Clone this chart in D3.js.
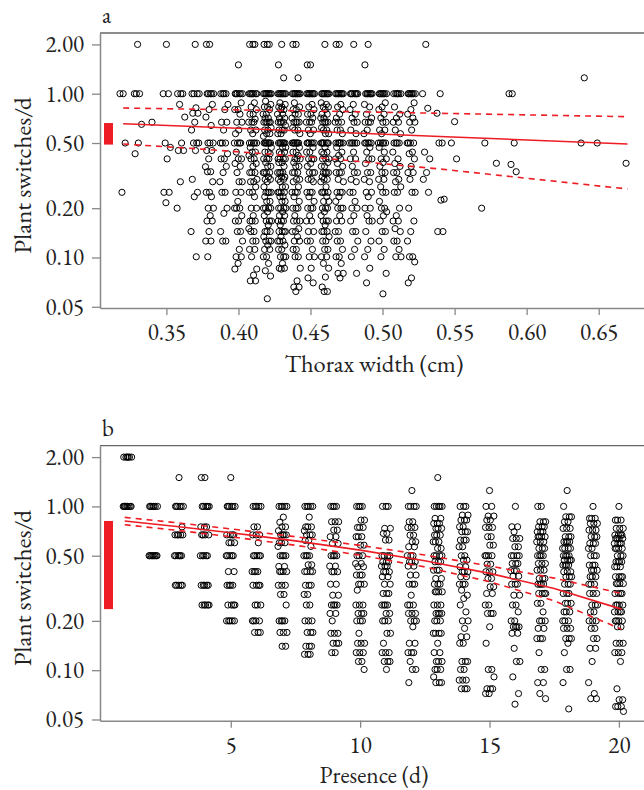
<!DOCTYPE html>
<html><head><meta charset="utf-8">
<script src="https://cdn.jsdelivr.net/npm/d3@7"></script>
<style>
body{margin:0;background:#fff}
svg{display:block}
</style>
</head><body>
<svg id="c" width="644" height="790"></svg>
<script>
// ---------- Panel a data: thorax width columns (cm) and plant switches/d ----------
const thoraxWidth = [0.32,0.33,0.34,0.35,0.36,0.37,0.38,0.39,0.40,0.41,0.42,0.43,0.44,0.45,0.46,0.47,0.48,0.49,0.50,0.51,0.52,0.53,0.54,0.55,0.571,0.579,0.59,0.64,0.649,0.669];
const switchesA = [
 "1*2 0.5 0.25",
 "2 1*3 0.65 0.5 0.43",
 "0.67",
 "2 1*2 0.5 0.47 0.4 0.25*2 0.216",
 "1*3 0.86 0.72 0.5 0.45*2 0.29 0.2",
 "2 1*4 0.82 0.76*2 0.67 0.6 0.5*3 0.45 0.3 0.25 0.235 0.144 0.101",
 "2*2 1*5 0.86 0.8 0.72 0.64 0.5*3 0.45*2 0.4 0.358 0.334*2 0.29 0.25*2 0.235 0.2*2 0.18 0.167*2 0.144 0.126*2 0.101",
 "1*4 0.86 0.8 0.67*2 0.6 0.5*3 0.43 0.4*2 0.36 0.33 0.29 0.25*2 0.2 0.186 0.144 0.126*2",
 "1.5 1*6 0.88 0.8*2 0.75 0.67*2 0.6 0.57 0.5*4 0.44 0.4*2 0.375 0.36 0.33 0.29*2 0.25*2 0.22 0.2*3 0.18 0.167*2 0.144*2 0.126 0.112 0.101*2 0.092 0.085",
 "2*3 1*7 0.88 0.83 0.8 0.75*2 0.7 0.67*3 0.6*2 0.57 0.5*5 0.47 0.44*2 0.42 0.4*2 0.375 0.36 0.33*3 0.3 0.29*2 0.27 0.25*2 0.235 0.2*2 0.18 0.167*3 0.15 0.144*2 0.126*2 0.112*2 0.101 0.085 0.078 0.072*2",
 "2*3 1*8 0.9 0.86 0.83*2 0.8 0.75*2 0.71*2 0.67*5 0.62 0.6*2 0.57*2 0.55 0.5*7 0.47 0.44*2 0.43 0.4*3 0.38 0.36*2 0.33*4 0.31 0.3*2 0.29 0.27 0.25*4 0.235 0.22*2 0.2*4 0.19 0.18 0.167*3 0.158 0.144*3 0.134 0.126*3 0.119 0.112*2 0.101*2 0.092 0.083 0.077 0.056",
 "2 1.5 1.25 1*8 0.88 0.86 0.83*2 0.8*2 0.75*2 0.71*2 0.67*4 0.64 0.6*3 0.57*2 0.5*7 0.47*2 0.44*2 0.43 0.4*4 0.38*2 0.36 0.33*4 0.31*2 0.3*2 0.29 0.27*2 0.25*4 0.235*2 0.22*2 0.2*4 0.19 0.18*2 0.167*3 0.158 0.144*4 0.134 0.126*3 0.119 0.112*2 0.101*3 0.092 0.086*2 0.085",
 "2*2 1.25 1*8 0.88 0.83 0.8*2 0.75*2 0.71 0.67*4 0.62 0.6*2 0.57 0.5*7 0.47 0.44*2 0.42 0.4*3 0.38 0.36*2 0.33*3 0.3*2 0.29 0.27 0.25*3 0.235 0.22 0.2*3 0.18 0.167*3 0.15 0.144*2 0.134 0.126*2 0.112*2 0.101*2 0.086 0.072 0.066*2 0.062",
 "1.5*2 1*8 0.86 0.83 0.8 0.75*2 0.71 0.67*3 0.6*2 0.57 0.5*6 0.47 0.44*2 0.4*3 0.375 0.36 0.33*3 0.3*2 0.29 0.25*3 0.235 0.22 0.2*3 0.18 0.167*2 0.144*2 0.126*2 0.112 0.101*2 0.086 0.075 0.07",
 "2 1*8 0.88 0.86 0.83*2 0.8 0.75*2 0.71*2 0.67*4 0.62 0.6*2 0.57*2 0.5*7 0.47 0.44*2 0.43 0.4*3 0.38 0.36*2 0.33*4 0.31 0.3*2 0.29 0.27 0.25*4 0.235 0.22*2 0.2*3 0.19 0.18 0.167*3 0.158 0.144*3 0.134 0.126*2 0.112*2 0.101*2 0.092 0.086 0.076 0.066 0.062*2",
 "2*2 1*8 0.86 0.83 0.8 0.75 0.71 0.67*3 0.6*2 0.57 0.5*6 0.47 0.44 0.42 0.4*2 0.375 0.36 0.33*3 0.3 0.29 0.25*3 0.235 0.22 0.2*3 0.18 0.167*2 0.144*2 0.126*2 0.112 0.101*2 0.092 0.08*2 0.075",
 "2 1*7 0.86 0.8 0.75 0.71 0.67*2 0.6 0.57 0.5*5 0.44 0.4*2 0.36 0.33*2 0.3 0.29 0.25*2 0.22 0.2*2 0.18 0.167 0.144*2 0.126 0.112 0.101 0.08",
 "2 1.5 1*7 0.86 0.83 0.75 0.71 0.67*3 0.6 0.57 0.5*5 0.47 0.44 0.4*2 0.375 0.33*2 0.3 0.29 0.25*2 0.235 0.2*2 0.18 0.167*2 0.144 0.126 0.112 0.101 0.086 0.07",
 "1*7 0.88 0.83 0.8 0.75 0.71 0.67*2 0.6*2 0.57 0.5*5 0.47 0.44 0.4*2 0.38 0.36 0.33*2 0.3*2 0.27 0.25*2 0.22 0.2*2 0.19 0.18 0.167 0.144*2 0.126 0.112 0.101 0.08 0.06",
 "1*6 0.83 0.75 0.71 0.67*2 0.6 0.57 0.5*4 0.44 0.4 0.375 0.36 0.33*2 0.3 0.29 0.27 0.25*2 0.2 0.18 0.167*2 0.15 0.144 0.126*2 0.112 0.101*2",
 "1*7 0.88 0.8 0.75 0.71 0.67*2 0.6 0.5*4 0.44 0.43 0.4 0.36 0.33*2 0.3 0.25*2 0.2 0.167 0.144 0.126 0.101*2 0.094 0.075 0.07",
 "2 1 0.815 0.44 0.4 0.33 0.3 0.25",
 "1 0.76 0.5*2 0.227 0.224 0.144*2",
 "0.675 0.5 0.4",
 "0.5 0.2",
 "0.376",
 "1*2 0.5 0.37 0.334",
 "1.25 0.5",
 "0.5",
 "0.376"
];
// fitted line and confidence band, panel a
const fitAx  = [0.32, 0.3733, 0.4545, 0.5398, 0.67];
const fitA   = [0.656, 0.628, 0.588, 0.548, 0.493];
const fitAlo = [0.493, 0.460, 0.407, 0.347, 0.262];
const fitAhi = [0.818, 0.803, 0.784, 0.759, 0.724];
const rangeA = [0.489, 0.662];

// ---------- Panel b data: presence (d) and plant switches/d ----------
const presenceDay = [1,2,3,4,5,6,7,8,9,10,11,12,13,14,15,16,17,18,19,20];
const switchesB = [
 "2*6 1*9",
 "1*7 0.5*8",
 "1.5 1*6 0.75 0.67*5 0.5*6 0.33*5",
 "1.5*2 1*6 0.75*3 0.67*4 0.5*5 0.33*5 0.25*5",
 "1.5 1*6 0.67*4 0.6*3 0.5*5 0.4*2 0.33*4 0.25*4 0.2*5",
 "1*5 0.75*2 0.67*3 0.6 0.5*5 0.4*4 0.33*4 0.25*3 0.2*4 0.17*3",
 "1*5 0.86 0.8 0.75*2 0.71 0.67*4 0.6*3 0.57 0.5*4 0.43*2 0.4*4 0.33*3 0.29*2 0.25 0.2*4 0.17*3 0.14*2",
 "1*5 0.86 0.75*3 0.71 0.67*3 0.62*2 0.57 0.5*4 0.44*2 0.4*4 0.33*3 0.29*2 0.25*2 0.2*3 0.17*3 0.14*3 0.125*3",
 "1*4 0.806*3 0.717*2 0.653*2 0.594*2 0.5*4 0.432*2 0.399*3 0.335*2 0.287*2 0.25*4 0.222*2 0.2 0.168*3 0.146*3 0.128*2",
 "1*4 0.825*2 0.744*3 0.653*3 0.58*2 0.5*3 0.448*2 0.428*2 0.381*3 0.335*3 0.308 0.25*3 0.222*3 0.2*3 0.168 0.146*3 0.128*3 0.113*2 0.101",
 "1*3 0.734*2 0.684*2 0.623*2 0.5*4 0.459*3 0.432*3 0.399*3 0.372*2 0.335*2 0.294*3 0.25*4 0.222*2 0.2*3 0.168*2 0.146 0.128*3 0.113*3 0.101",
 "1.25 1*4 0.806*2 0.744*3 0.668*2 0.608*2 0.567*2 0.5*3 0.459*3 0.432*2 0.381*2 0.335*3 0.287 0.25*3 0.222*3 0.2*3 0.184 0.146*2 0.128*3 0.113 0.101*2 0.084",
 "1.5 1*5 0.845*2 0.787*3 0.734*3 0.668*3 0.608*3 0.554*2 0.5*4 0.459*3 0.408*3 0.363*2 0.335*3 0.301*4 0.25*3 0.222*4 0.2*3 0.168*4 0.146 0.128*2 0.113*3 0.101*3 0.091 0.084*3",
 "1*3 0.885*2 0.825*3 0.751*2 0.7*3 0.623*3 0.567*2 0.5*2 0.47*2 0.428*2 0.399*3 0.372*2 0.335*3 0.308 0.287 0.274 0.25 0.227 0.2*2 0.18 0.16*2 0.146*2 0.113*3 0.101*2 0.087*3 0.077*3",
 "1.25 1*2 0.873*2 0.825*2 0.744*3 0.653*2 0.58*2 0.5*4 0.444*2 0.399*3 0.363*2 0.323*2 0.294*2 0.25*2 0.222*3 0.184 0.146 0.101*2 0.091 0.077*3 0.072*2",
 "1 0.751*2 0.7 0.637*3 0.567*2 0.5*4 0.448*3 0.405*3 0.375*2 0.335*3 0.287*2 0.25*2 0.227 0.2*2 0.184*4 0.168*2 0.136 0.113*2 0.091 0.072 0.062",
 "1*2 0.806*3 0.751*3 0.7*3 0.653*4 0.608*3 0.554*3 0.5*4 0.448*3 0.408*3 0.363*3 0.335*4 0.294*4 0.256*2 0.227 0.2*3 0.18*2 0.156*3 0.128 0.101*2 0.084*2 0.072 0.067",
 "1.25 1 0.864*3 0.806*2 0.734*3 0.653*3 0.608*4 0.554*4 0.5*4 0.47*4 0.438*4 0.399*3 0.372*3 0.335*3 0.294*3 0.256*3 0.227*3 0.2*3 0.18*3 0.156*3 0.146 0.128 0.101*2 0.084 0.058",
 "1 0.845*3 0.787*3 0.717*3 0.653*3 0.594*3 0.554*2 0.5*3 0.438*3 0.408*3 0.372*3 0.335*3 0.294*3 0.25*3 0.227*2 0.2*3 0.18*2 0.156*2 0.136*2 0.113 0.084 0.072 0.067*2",
 "1 0.825*3 0.734*3 0.668*4 0.637*4 0.594*4 0.554*4 0.5*3 0.459*4 0.428*3 0.372*4 0.338*4 0.294*4 0.25*4 0.227*4 0.2*4 0.184*2 0.146*3 0.128*3 0.113 0.077 0.066*2 0.06*3 0.056"
];
// fitted line and confidence band, panel b
const fitBx  = [0.9, 3, 5, 7.5, 10, 12.5, 15, 17.5, 20.1];
const fitB   = [0.815, 0.752, 0.691, 0.616, 0.541, 0.466, 0.390, 0.315, 0.236];
const fitBhi = [0.857, 0.792, 0.729, 0.653, 0.578, 0.505, 0.433, 0.365, 0.294];
const fitBlo = [0.773, 0.712, 0.653, 0.579, 0.504, 0.427, 0.347, 0.265, 0.178];
const rangeB = [0.236, 0.815];

// ---------- ticks ----------
const yTicks  = [0.05, 0.10, 0.20, 0.50, 1.00, 2.00];
const xTicksA = [0.35, 0.40, 0.45, 0.50, 0.55, 0.60, 0.65];
const xTicksB = [5, 10, 15, 20];

// ---------- helpers ----------
function parse(xs, strs){
  const pts = [];
  xs.forEach((x, i) => {
    let k = 0;
    strs[i].trim().split(/\s+/).forEach(tok => {
      const [v, n] = tok.split('*');
      const c = n ? +n : 1;
      for (let j = 0; j < c; j++) pts.push({x: x, y: +v, k: k++});
    });
  });
  return pts;
}
// deterministic low-discrepancy spread within a column (index based)
function spread(k){ return ((k * 0.618034 + 0.5) % 1) - 0.5; }

const FONT = "'EB Garamond', 'Liberation Serif', 'Times New Roman', serif";
const svg = d3.select('#c');
const L = 100, R = 644, H = 275;
const yDomain = [0.04916, 2.348];
const RED = '#ee1c24';

function txt(sel, size){
  return sel.style('font-family', FONT).style('font-size', size + 'px').style('fill', '#222');
}

function panel(o){
  const x = d3.scaleLinear().domain(o.xDomain).range([L, R]);
  const y = d3.scaleLog().domain(yDomain).range([o.top + H, o.top]);
  const g = svg.append('g');

  // points
  g.append('g').selectAll('circle').data(o.pts).join('circle')
    .attr('cx', d => x(d.x) + spread(d.k) * 2 * o.jit)
    .attr('cy', d => y(d.y))
    .attr('r', 3.1)
    .attr('fill', 'none')
    .attr('stroke', '#000')
    .attr('stroke-width', 1);

  // fit lines
  const line = d3.line().x(d => x(d[0])).y(d => y(d[1]));
  const mk = arr => o.fx.map((v, i) => [v, arr[i]]);
  g.append('path').attr('d', line(mk(o.fy))).attr('fill','none').attr('stroke',RED).attr('stroke-width',1.6);
  [o.flo, o.fhi].forEach(a => {
    g.append('path').attr('d', line(mk(a))).attr('fill','none').attr('stroke',RED)
      .attr('stroke-width',1.6).attr('stroke-dasharray','6,5');
  });

  // range bar
  g.append('rect').attr('x', L + 4).attr('width', 9)
    .attr('y', y(o.range[1])).attr('height', y(o.range[0]) - y(o.range[1]))
    .attr('fill', RED);

  // top border
  g.append('line').attr('x1', L).attr('x2', R).attr('y1', o.top).attr('y2', o.top)
    .attr('stroke', '#666').attr('stroke-width', 1.3);

  // axes
  const ax = g.append('g').attr('transform', `translate(0,${o.top + H})`)
    .call(d3.axisBottom(x).tickValues(o.xTicks).tickFormat(o.xFmt).tickSize(7).tickPadding(9).tickSizeOuter(0));
  const ay = g.append('g').attr('transform', `translate(${L},0)`)
    .call(d3.axisLeft(y).tickValues(yTicks).tickFormat(d3.format('.2f')).tickSize(8).tickPadding(8).tickSizeOuter(0));
  [ax, ay].forEach(a => {
    a.attr('font-family', null).attr('font-size', null);
    a.select('.domain').attr('stroke', '#888').attr('stroke-width', 1.5);
    a.selectAll('.tick line').attr('stroke', '#888').attr('stroke-width', 1.3);
    txt(a.selectAll('.tick text'), 23);
  });

  // labels
  txt(g.append('text').attr('x', L + 2).attr('y', o.top - 10).text(o.letter), 23);
  txt(g.append('text').attr('x', (L + R) / 2 + 2).attr('y', o.top + H + o.titleOff)
    .attr('text-anchor', 'middle').text(o.title), o.titleSize);
  txt(g.append('text').attr('transform', `translate(31,${o.top + H / 2 + 5}) rotate(-90)`)
    .attr('text-anchor', 'middle').text('Plant switches/d'), 25);
}

panel({
  top: 33, xDomain: [0.30392, 0.68144], xTicks: xTicksA, xFmt: d3.format('.2f'),
  pts: parse(thoraxWidth, switchesA), jit: 4.2,
  fx: fitAx, fy: fitA, flo: fitAlo, fhi: fitAhi, range: rangeA,
  letter: 'a', title: 'Thorax width (cm)', titleOff: 64, titleSize: 24.5
});
panel({
  top: 445.7, xDomain: [-0.054, 20.97], xTicks: xTicksB, xFmt: d3.format('d'),
  pts: parse(presenceDay, switchesB), jit: 4.6,
  fx: fitBx, fy: fitB, flo: fitBlo, fhi: fitBhi, range: rangeB,
  letter: 'b', title: 'Presence (d)', titleOff: 62, titleSize: 23.5
});
</script>
</body></html>
